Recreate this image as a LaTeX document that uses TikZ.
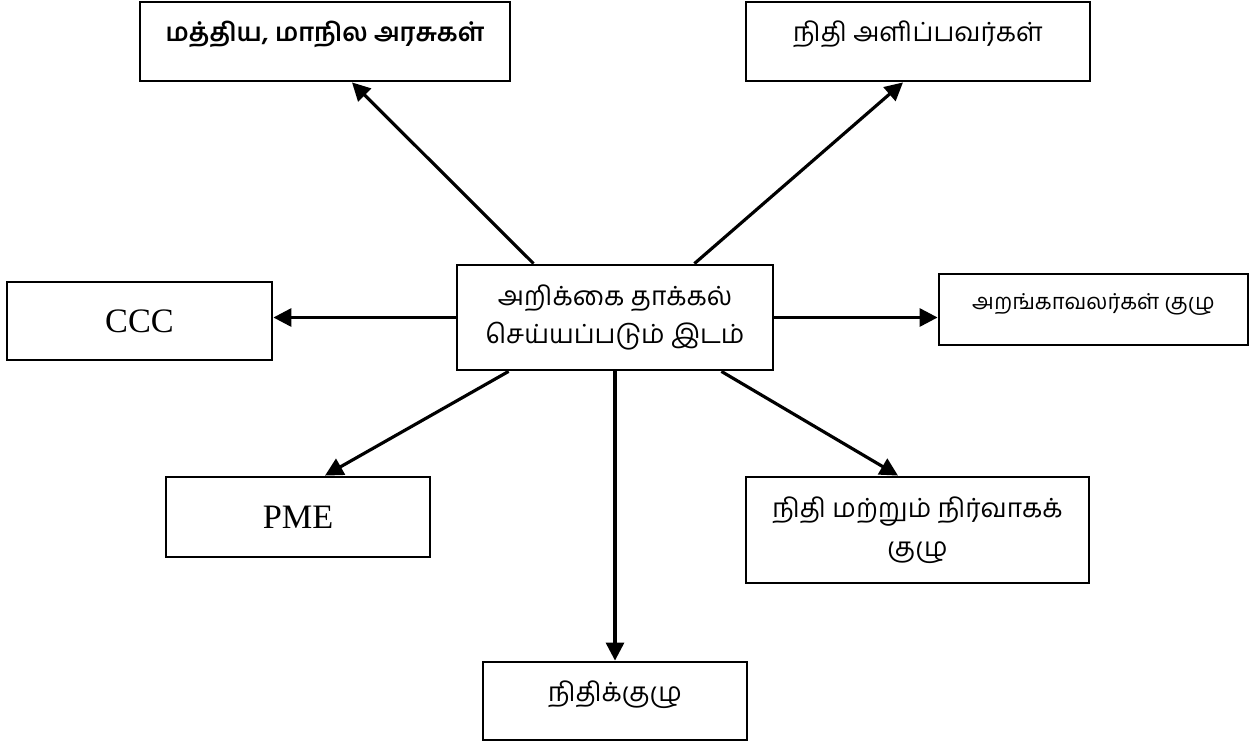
\documentclass[tikz,border=0pt]{standalone}
\usepackage{fontspec}
\setmainfont{Liberation Serif}
\newfontfamily\tamil[Script=Tamil]{Hind Madurai}
\usetikzlibrary{positioning,arrows.meta}

\begin{document}
\begin{tikzpicture}[
                box/.style = {draw, line width=1.6pt, inner sep=0pt, align=center},
                tam/.style = {font=\tamil\fontsize{15}{22}\selectfont},
                one/.style = {text height=0.35cm, text depth=0.35cm},
                lat/.style = {font=\fontsize{19.5}{23}\selectfont},
                arr/.style = {line width=1.8pt, -{Triangle[length=0.36cm,width=0.36cm]}}]
                \useasboundingbox (0,0) rectangle (25.14,-14.92);
                % centre box
                \node[box, tam, minimum width=6.32cm, minimum height=2.1cm] (rep) at (12.3,-6.35)
                    {அறிக்கை தாக்கல்\\செய்யப்படும் இடம்};
                \node[box, tam, one, minimum width=7.4cm, minimum height=1.58cm] (gov) at (6.5,-0.83)
                    {\bfseries\fontsize{14.5}{18}\selectfont மத்திய, மாநில அரசுகள்};
                \node[box, tam, one, minimum width=6.88cm, minimum height=1.58cm] (fund) at (18.36,-0.83)
                    {நிதி அளிப்பவர்கள்};
                \node[box, lat, minimum width=5.3cm, minimum height=1.56cm] (ccc) at (2.79,-6.42) {CCC};
                \node[box, tam, one, font=\tamil\fontsize{12.5}{16}\selectfont, minimum width=6.18cm, minimum height=1.42cm]
                    (trust) at (21.87,-6.19) {அறங்காவலர்கள் குழு};
                \node[box, lat, minimum width=5.28cm, minimum height=1.6cm] (pme) at (5.96,-10.34) {PME};
                \node[box, tam, minimum width=6.86cm, minimum height=2.12cm] (admin) at (18.35,-10.6)
                    {நிதி மற்றும் நிர்வாகக்\\குழு};
                \node[box, tam, one, minimum width=5.28cm, minimum height=1.56cm] (fin) at (12.3,-14.02)
                    {நிதிக்குழு};
                % arrows
                \draw[arr] ([xshift=1.56cm]rep.north west) -- ([xshift=0.54cm]gov.south);
                \draw[arr] ([xshift=-1.6cm]rep.north east) -- ([xshift=-0.3cm]fund.south);
                \draw[arr] (rep.west) -- (rep.west -| ccc.east);
                \draw[arr] (rep.east) -- (rep.east -| trust.west);
                \draw[arr] ([xshift=1.06cm]rep.south west) -- ([xshift=0.54cm]pme.north);
                \draw[arr] (rep.south) -- (fin.north);
                \draw[arr] ([xshift=-1.06cm]rep.south east) -- ([xshift=-0.39cm]admin.north);
\end{tikzpicture}
\end{document}
